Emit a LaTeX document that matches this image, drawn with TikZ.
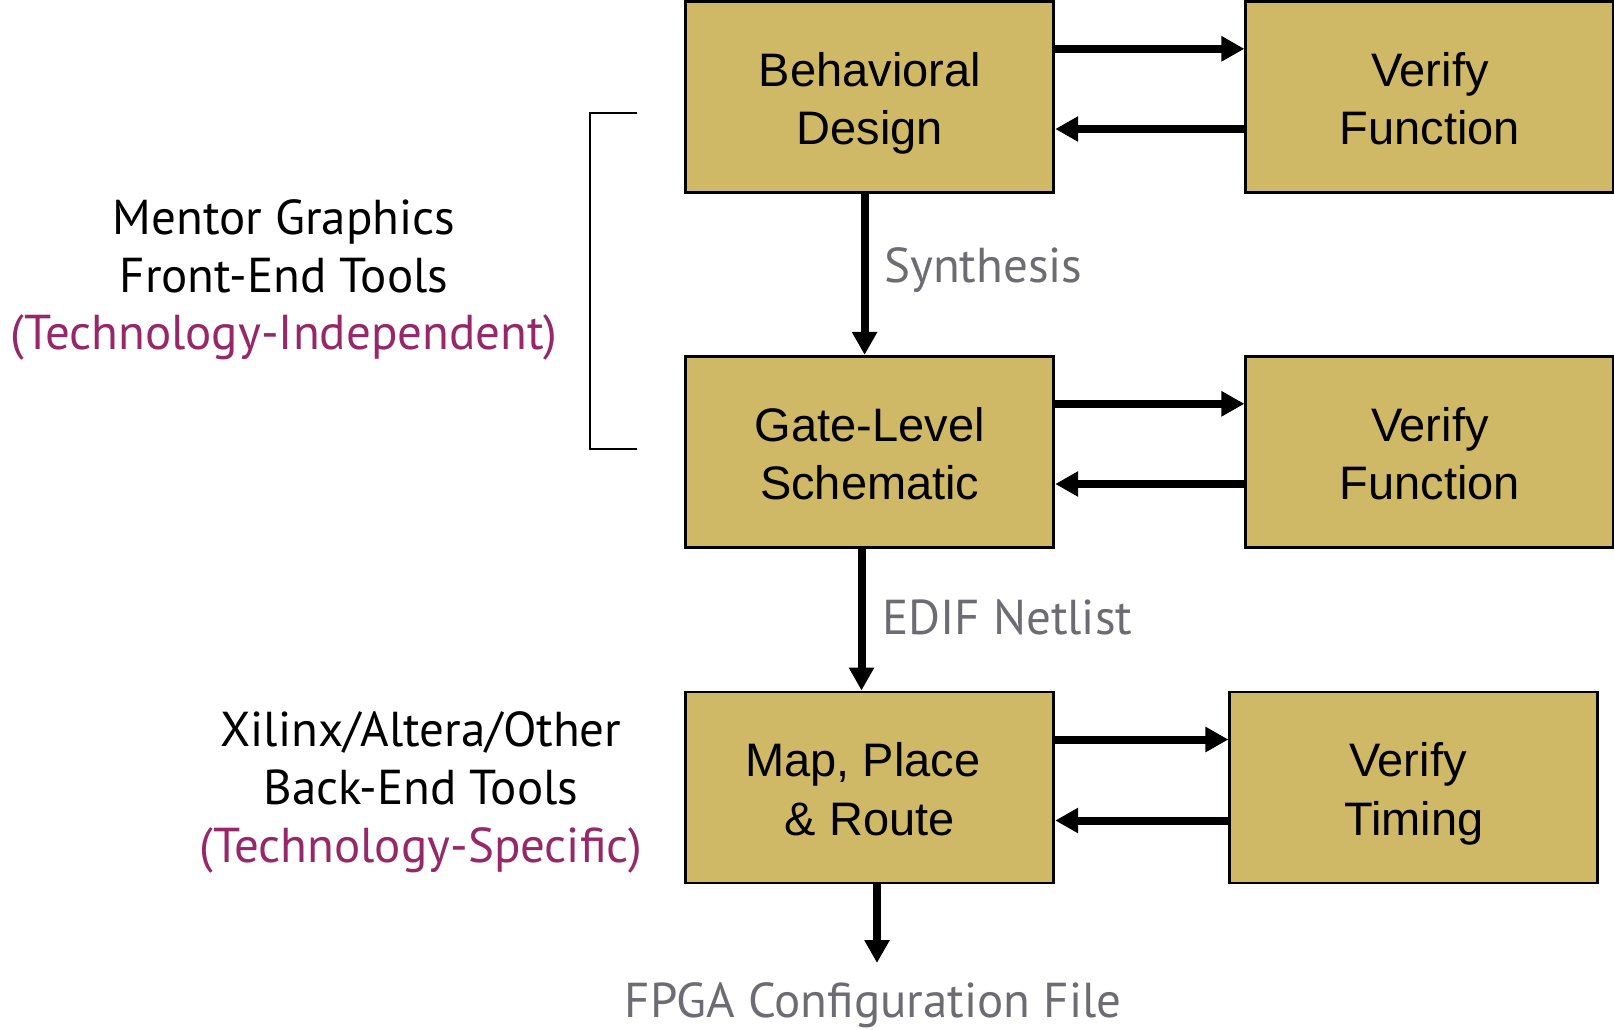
\documentclass[tikz,border=0pt]{standalone}
\usepackage{fontspec}
\setmainfont{Liberation Sans}
\newfontfamily\hum{PT Sans}
\usetikzlibrary{arrows.meta}
\definecolor{boxfill}{RGB}{207,185,102}
\definecolor{purp}{RGB}{150,40,105}
\definecolor{lgray}{RGB}{110,108,115}
\begin{document}
\begin{tikzpicture}[x=1pt,y=-1pt,
  stagebox/.style={draw=black,line width=2.8pt,fill=boxfill,minimum width=368pt,minimum height=191pt,inner sep=0pt,align=center,font=\fontsize{47}{58.5}\selectfont,
    text height=95.6pt, text depth=0pt},
  flow/.style={line width=8pt,-{Triangle[length=23pt,width=24pt]}},
  note/.style={align=center,inner sep=0pt,font=\hum\fontsize{49}{57.6}\selectfont},
  lbl/.style={inner sep=0pt,text=lgray,font=\hum\fontsize{49}{57.6}\selectfont},
  brk/.style={line width=2pt}
]
\useasboundingbox (0,0) rectangle (1614,1030);
\node[stagebox] (bd) at (869.8,96.8) {Behavioral\\Design};
\node[stagebox] (vf1) at (1429.8,96.8) {Verify\\Function};
\node[stagebox] (gl) at (869.8,451.8) {Gate-Level\\Schematic};
\node[stagebox] (vf2) at (1429.8,451.8) {Verify\\Function};
\node[stagebox] (mp) at (869.8,787.4) {Map, Place\hspace*{14pt}\\\& Route};
\node[stagebox] (vt) at (1413.8,787.4) {Verify\hspace*{12pt}\\Timing};

\draw[flow] (bd.east |- 0,48.8) -- (vf1.west |- 0,48.8);
\draw[flow] (vf1.west |- 0,129) -- (bd.east |- 0,129);
\draw[flow] (gl.east |- 0,403.8) -- (vf2.west |- 0,403.8);
\draw[flow] (vf2.west |- 0,484) -- (gl.east |- 0,484);
\draw[flow] (mp.east |- 0,739.5) -- (vt.west |- 0,739.5);
\draw[flow] (vt.west |- 0,820.5) -- (mp.east |- 0,820.5);

\draw[flow] (bd.south -| 864.6,0) -- (gl.north -| 864.6,0);
\draw[flow] (gl.south -| 861.5,0) -- (mp.north -| 861.5,0);
\coordinate (fpgaend) at (877,963);
\draw[flow] (mp.south -| 877,0) -- (fpgaend);

\node[lbl,anchor=west] (syn) at (884,269.6) {Synthesis};
\node[lbl,anchor=west] (edif) at (882,617.6) {EDIF Netlist};
\node[lbl] (fpga) at (873,1005.5) {FPGA Configuration File};

\node[note] (front) at (284,280) {Mentor Graphics\\Front-End Tools\\\textcolor{purp}{(Technology-Independent)}};
\node[note] (back) at (421,792.5) {Xilinx/Altera/Other\\Back-End Tools\\\textcolor{purp}{(Technology-Specific)}};

\coordinate (b1) at (637,113.2);
\coordinate (b2) at (589.8,113.2);
\coordinate (b3) at (589.8,448.8);
\coordinate (b4) at (637,448.8);
\draw[brk] (b1) -- (b2) -- (b3) -- (b4);
\end{tikzpicture}
\end{document}
